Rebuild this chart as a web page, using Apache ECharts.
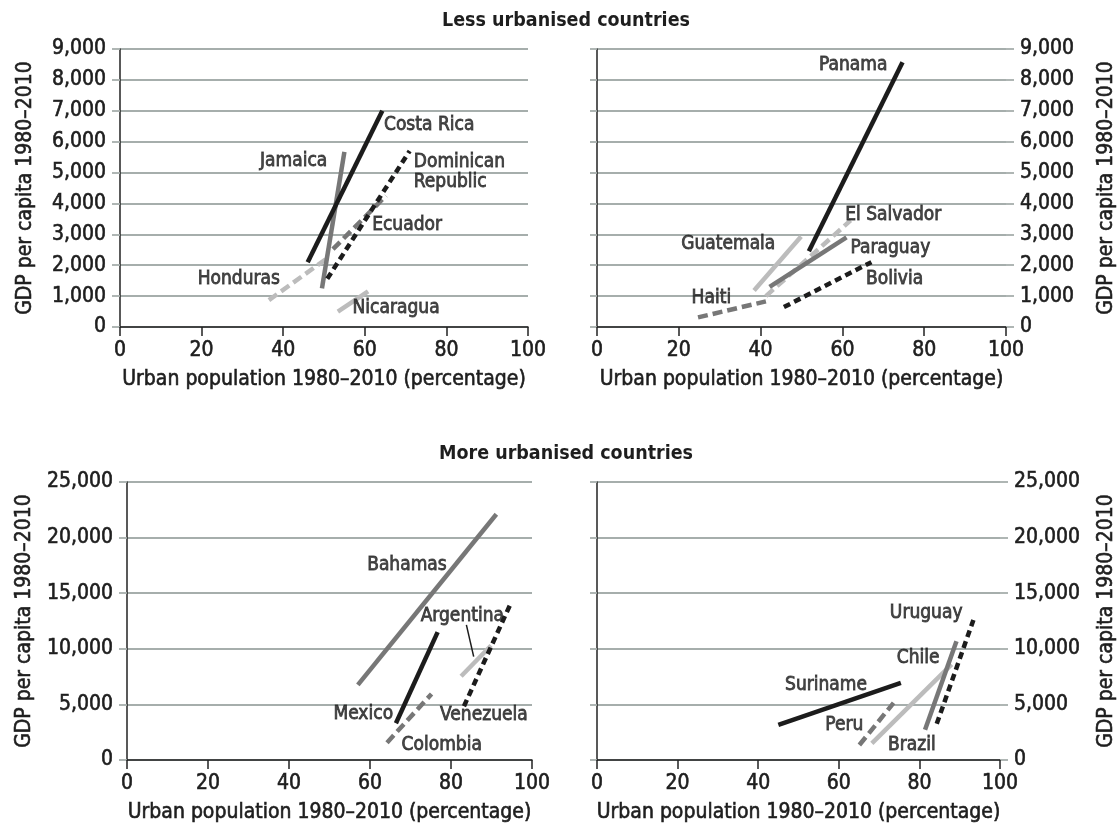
<!DOCTYPE html>
<html>
<head>
<meta charset="utf-8">
<script src="https://cdn.jsdelivr.net/npm/echarts@6/dist/echarts.min.js"></script>
<style>
  html, body { margin: 0; padding: 0; background: #ffffff; }
  #chart { width: 1120px; height: 829px; }
</style>
</head>
<body>
<div id="chart"></div>
<script>
// ---------------- DATA ----------------
// Axis ticks
const urbanTicks = [0, 20, 40, 60, 80, 100];
const lessGdpTicks = [0, 1000, 2000, 3000, 4000, 5000, 6000, 7000, 8000, 9000];
const moreGdpTicks = [0, 5000, 10000, 15000, 20000, 25000];

// Panel 1: less urbanised (left)
const lessLeftCountries = ['Honduras', 'Nicaragua', 'Ecuador', 'Jamaica', 'Dominican Republic', 'Costa Rica'];
const lessLeftUrban1980 = [36.5, 53.4, 52.2, 49.5, 50.8, 46.0];
const lessLeftUrban2010 = [50.5, 60.8, 65.2, 55.0, 71.0, 64.3];
const lessLeftGdp1980   = [870, 500, 2520, 1250, 1560, 2100];
const lessLeftGdp2010   = [2200, 1150, 4250, 5670, 5700, 7000];

// Panel 2: less urbanised (right)
const lessRightCountries = ['Haiti', 'Guatemala', 'El Salvador', 'Paraguay', 'Bolivia', 'Panama'];
const lessRightUrban1980 = [24.7, 38.4, 41.3, 42.2, 45.7, 51.8];
const lessRightUrban2010 = [41.3, 49.9, 62.0, 61.0, 67.1, 74.7];
const lessRightGdp1980   = [310, 1185, 1000, 1300, 645, 2450];
const lessRightGdp2010   = [830, 2930, 3450, 2900, 2100, 8570];

// Panel 3: more urbanised (left)
const moreLeftCountries = ['Bahamas', 'Colombia', 'Mexico', 'Argentina', 'Venezuela'];
const moreLeftUrban1980 = [57.0, 64.2, 66.4, 82.5, 83.2];
const moreLeftUrban2010 = [91.2, 75.2, 76.7, 89.9, 94.8];
const moreLeftGdp1980   = [6750, 1560, 3300, 7530, 4830];
const moreLeftGdp2010   = [22100, 5940, 11500, 10300, 14120];

// Panel 4: more urbanised (right)
const moreRightCountries = ['Suriname', 'Peru', 'Chile', 'Brazil', 'Uruguay'];
const moreRightUrban1980 = [45.0, 65.1, 68.2, 81.4, 84.3];
const moreRightUrban2010 = [75.4, 73.6, 88.0, 89.2, 93.4];
const moreRightGdp1980   = [3150, 1350, 1500, 2730, 3250];
const moreRightGdp2010   = [6940, 5140, 8600, 10670, 12590];

// ---------------- ANNOTATION LAYOUT (data units) ----------------
const lessLeftLabels = [
  { name: 'Costa Rica', at: [64.7, 6530], align: 'left' },
  { name: 'Jamaica', at: [50.8, 5360], align: 'right' },
  { name: 'Dominican\nRepublic', at: [72.0, 5020], align: 'left' },
  { name: 'Ecuador', at: [61.8, 3300], align: 'left' },
  { name: 'Honduras', at: [39.2, 1540], align: 'right' },
  { name: 'Nicaragua', at: [57.0, 600], align: 'left' }
];
const lessRightLabels = [
  { name: 'Panama', at: [71.0, 8470], align: 'right' },
  { name: 'El Salvador', at: [60.7, 3635], align: 'left' },
  { name: 'Guatemala', at: [43.6, 2700], align: 'right' },
  { name: 'Paraguay', at: [62.0, 2570], align: 'left' },
  { name: 'Bolivia', at: [65.8, 1553], align: 'left' },
  { name: 'Haiti', at: [32.8, 940], align: 'right' }
];
const moreLeftLabels = [
  { name: 'Bahamas', at: [59.3, 17540], align: 'left' },
  { name: 'Argentina', at: [72.5, 12900], align: 'left' },
  { name: 'Mexico', at: [65.7, 4100], align: 'right' },
  { name: 'Venezuela', at: [77.3, 4000], align: 'left' },
  { name: 'Colombia', at: [67.8, 1350], align: 'left' }
];
const moreRightLabels = [
  { name: 'Uruguay', at: [90.7, 13250], align: 'right' },
  { name: 'Chile', at: [85.0, 9200], align: 'right' },
  { name: 'Suriname', at: [67.0, 6745], align: 'right' },
  { name: 'Peru', at: [66.1, 3100], align: 'right' },
  { name: 'Brazil', at: [72.2, 1300], align: 'left' }
];
const argentinaLeaderUrban = [83.8, 85.6];
const argentinaLeaderGdp = [12150, 9300];

// ---------------- STYLES ----------------
const FONT = "'DejaVu Sans Condensed', 'DejaVu Sans', sans-serif";
const BLACK = '#1c1c1c', MID = '#777777', LIGHT = '#bcbcbc';
const GRID_COLOR = '#a6aeac';
const AXIS_COLOR = '#222222';
const TEXT_COLOR = '#1e1e1e';
const LINE_W = 4.5;
const lineStyles = {
  blackSolid: { color: BLACK, width: LINE_W, type: 'solid' },
  midSolid:   { color: MID, width: LINE_W, type: 'solid' },
  lightSolid: { color: LIGHT, width: LINE_W, type: 'solid' },
  blackDash:  { color: BLACK, width: LINE_W, type: [7, 4.5] },
  midDash:    { color: MID, width: LINE_W, type: [10, 5] },
  lightDash:  { color: LIGHT, width: LINE_W, type: [10, 5] }
};
const countryStyle = {
  'Costa Rica': 'blackSolid', 'Jamaica': 'midSolid', 'Dominican Republic': 'blackDash',
  'Ecuador': 'midDash', 'Honduras': 'lightDash', 'Nicaragua': 'lightSolid',
  'Panama': 'blackSolid', 'Guatemala': 'lightSolid', 'El Salvador': 'lightDash',
  'Paraguay': 'midSolid', 'Haiti': 'midDash', 'Bolivia': 'blackDash',
  'Bahamas': 'midSolid', 'Mexico': 'blackSolid', 'Colombia': 'midDash',
  'Argentina': 'lightSolid', 'Venezuela': 'blackDash',
  'Suriname': 'blackSolid', 'Peru': 'midDash', 'Chile': 'lightSolid',
  'Brazil': 'midSolid', 'Uruguay': 'blackDash'
};
// text thickening (stroke in same colour) to mimic the medium-weight face
const thick = { textBorderColor: TEXT_COLOR, textBorderWidth: 0.6 };

// ---------------- BUILD OPTION ----------------
const gridBoxes = [
  { left: 120, top: 49, width: 408, height: 278 },
  { left: 597, top: 49, width: 409, height: 278 },
  { left: 127, top: 482, width: 405, height: 278 },
  { left: 597, top: 482, width: 403, height: 278 }
];
const X_NAME = 'Urban population 1980–2010 (percentage)';
const Y_NAME = 'GDP per capita 1980–2010';
const fmt = v => Number(v).toLocaleString('en-US');

function xAxisFor(gridIndex) {
  return {
    type: 'value', gridIndex,
    min: urbanTicks[0], max: urbanTicks[urbanTicks.length - 1],
    interval: urbanTicks[1] - urbanTicks[0],
    axisLine: { show: true, onZero: false, lineStyle: { color: AXIS_COLOR, width: 1.5 } },
    axisTick: { show: true, length: 9, lineStyle: { color: AXIS_COLOR, width: 1.5 } },
    axisLabel: Object.assign({ fontSize: 21, margin: 13, color: TEXT_COLOR, fontFamily: FONT }, thick),
    splitLine: { show: false },
    name: X_NAME, nameLocation: 'middle', nameGap: 42,
    nameTextStyle: Object.assign({ fontSize: 21, color: TEXT_COLOR, fontFamily: FONT }, thick)
  };
}
function yRange(ticks) {
  return { min: ticks[0], max: ticks[ticks.length - 1], interval: ticks[1] - ticks[0] };
}
function yLabelAxis(gridIndex, ticks, position, nameGap, withLine) {
  return Object.assign({
    type: 'value', gridIndex, position,
    axisLine: { show: withLine, lineStyle: { color: AXIS_COLOR, width: 1.5 } },
    axisTick: { show: true, length: 8, lineStyle: { color: GRID_COLOR, width: 1.8 } },
    axisLabel: Object.assign({ fontSize: 21, margin: 14, color: TEXT_COLOR, fontFamily: FONT, formatter: fmt }, thick),
    splitLine: { show: true, lineStyle: { color: GRID_COLOR, width: 1.8 } },
    name: Y_NAME, nameLocation: 'middle', nameGap, nameRotate: 90,
    nameTextStyle: Object.assign({ fontSize: 21, color: TEXT_COLOR, fontFamily: FONT }, thick)
  }, yRange(ticks));
}
function yLineAxis(gridIndex, ticks) {
  return Object.assign({
    type: 'value', gridIndex, position: 'left',
    axisLine: { show: true, lineStyle: { color: AXIS_COLOR, width: 1.5 } },
    axisTick: { show: true, length: 7, lineStyle: { color: GRID_COLOR, width: 1.8 } },
    axisLabel: { show: false },
    splitLine: { show: false }
  }, yRange(ticks));
}

const xAxes = [0, 1, 2, 3].map(xAxisFor);
const yAxes = [
  yLabelAxis(0, lessGdpTicks, 'left', 84, true),   // 0
  yLineAxis(1, lessGdpTicks),                      // 1
  yLabelAxis(1, lessGdpTicks, 'right', 90, false), // 2
  yLabelAxis(2, moreGdpTicks, 'left', 92, true),   // 3
  yLineAxis(3, moreGdpTicks),                      // 4
  yLabelAxis(3, moreGdpTicks, 'right', 96, false)  // 5
];

function lineSeries(names, x80, x10, y80, y10, xi, yi) {
  return names.map((n, i) => ({
    type: 'line', name: n, xAxisIndex: xi, yAxisIndex: yi,
    data: [[x80[i], y80[i]], [x10[i], y10[i]]],
    symbol: 'none', showSymbol: false, silent: true, animation: false,
    lineStyle: Object.assign({ cap: 'butt' }, lineStyles[countryStyle[n]])
  }));
}
function labelSeries(labels, xi, yi) {
  return {
    type: 'scatter', xAxisIndex: xi, yAxisIndex: yi, symbolSize: 0, silent: true, z: 5,
    clip: false,
    data: labels.map(l => ({
      value: l.at, name: l.name,
      label: { align: l.align }
    })),
    label: Object.assign({
      show: true, position: [0, 0], verticalAlign: 'middle',
      formatter: p => p.name, fontSize: 19, lineHeight: 20,
      color: TEXT_COLOR, fontFamily: FONT
    }, { textBorderColor: TEXT_COLOR, textBorderWidth: 0.8 })
  };
}

const series = [].concat(
  lineSeries(lessLeftCountries, lessLeftUrban1980, lessLeftUrban2010, lessLeftGdp1980, lessLeftGdp2010, 0, 0),
  lineSeries(lessRightCountries, lessRightUrban1980, lessRightUrban2010, lessRightGdp1980, lessRightGdp2010, 1, 2),
  lineSeries(moreLeftCountries, moreLeftUrban1980, moreLeftUrban2010, moreLeftGdp1980, moreLeftGdp2010, 2, 3),
  lineSeries(moreRightCountries, moreRightUrban1980, moreRightUrban2010, moreRightGdp1980, moreRightGdp2010, 3, 5),
  [{
    type: 'line', xAxisIndex: 2, yAxisIndex: 3, symbol: 'none', silent: true,
    data: argentinaLeaderUrban.map((x, i) => [x, argentinaLeaderGdp[i]]),
    lineStyle: { color: BLACK, width: 1.5 }
  }],
  [labelSeries(lessLeftLabels, 0, 0), labelSeries(lessRightLabels, 1, 2),
   labelSeries(moreLeftLabels, 2, 3), labelSeries(moreRightLabels, 3, 5)]
);

const titleStyle = { fontSize: 19.5, fontWeight: 'bold', fill: '#1e1e1e', fontFamily: FONT,
                     align: 'center', verticalAlign: 'middle' };
const option = {
  animation: false,
  backgroundColor: '#ffffff',
  grid: gridBoxes,
  xAxis: xAxes,
  yAxis: yAxes,
  graphic: [
    { type: 'text', x: 566, y: 21, style: Object.assign({ text: 'Less urbanised countries' }, titleStyle) },
    { type: 'text', x: 566, y: 454, style: Object.assign({ text: 'More urbanised countries' }, titleStyle) }
  ],
  series
};

const chart = echarts.init(document.getElementById('chart'), null, { renderer: 'canvas' });
chart.setOption(option);
</script>
</body>
</html>
